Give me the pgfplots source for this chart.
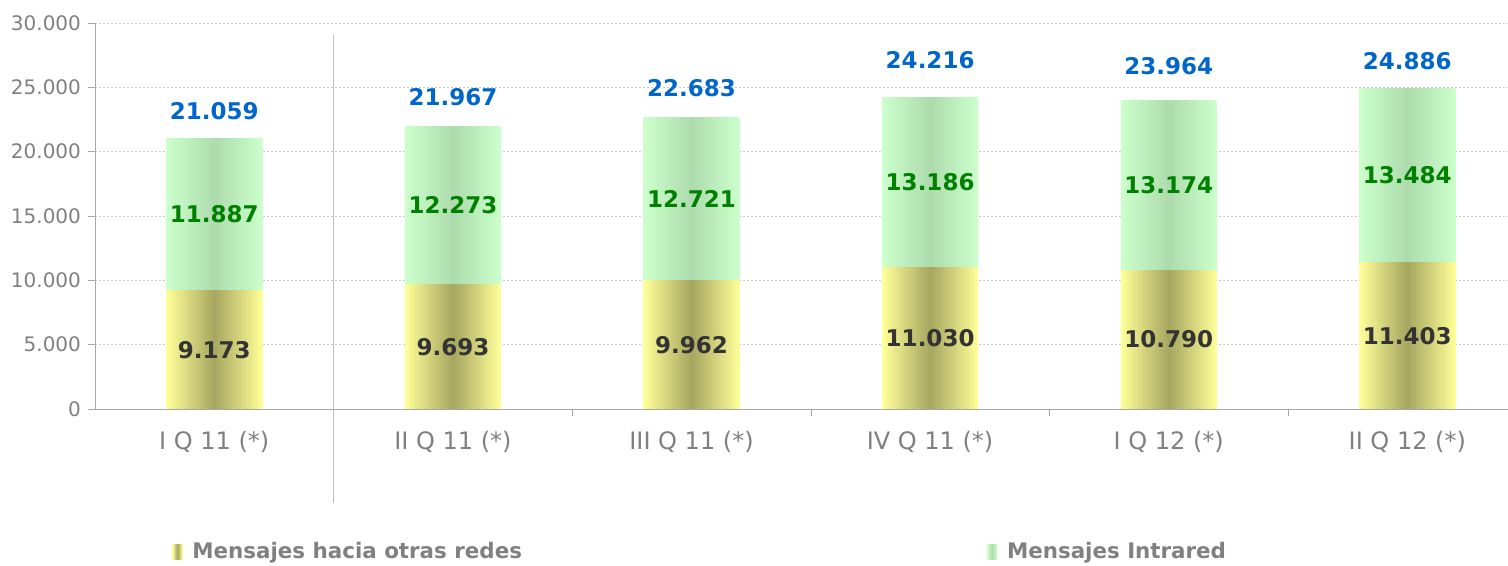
\documentclass[border=0pt]{standalone}
\usepackage{fontspec}
\setmainfont{DejaVu Sans}
\usepackage{pgfplots}
\usepackage{pgfplotstable}
\pgfplotsset{compat=1.18}
\definecolor{yedge}{HTML}{FFFF99}
\definecolor{ymid}{HTML}{A6A660}
\definecolor{gedge}{HTML}{CCFFCC}
\definecolor{gmid}{HTML}{ADDBAD}
\definecolor{lblue}{HTML}{0066CC}
\definecolor{lgreen}{HTML}{008000}
\definecolor{ldark}{HTML}{333333}
\definecolor{txtgray}{HTML}{808080}
\definecolor{axgray}{HTML}{A6A6A6}
\definecolor{gridgray}{HTML}{BFBFBF}

\pgfplotstableread{
x yel grn tot ly
0 9173 11887 21059 23161
1 9693 12273 21967 24249
2 9962 12721 22683 24948
3 11030 13186 24216 27124
4 10790 13174 23964 26658
5 11403 13484 24886 27047
}\data

\begin{document}
\begin{tikzpicture}
\pgfkeys{/pgf/number format/.cd,1000 sep={.},assume math mode=true}
\begin{axis}[
  scale only axis, width=706.5pt, height=193pt,
  xmin=-0.5, xmax=5.422, ymin=0, ymax=30000,
  clip=false,
  axis x line*=bottom, axis y line*=left,
  axis line style={axgray},
  tick align=outside, major tick length=3.5pt, minor tick length=3.5pt,
  tick style={axgray},
  major x tick style={draw=none},
  minor x tick style={draw=axgray},
  ytick={0,5000,...,30000},
  scaled y ticks=false,
  ymajorgrids, xmajorgrids=false, xminorgrids=false,
  major grid style={gridgray!80, line width=0.4pt, dash pattern=on 0.8pt off 1.2pt},
  yticklabel style={text=txtgray, font=\fontsize{10}{12}\selectfont},
  xtick={0,...,5},
  minor xtick={0.5,1.5,2.5,3.5,4.5},
  xticklabels={I Q 11 (*), II Q 11 (*), III Q 11 (*), IV Q 11 (*), I Q 12 (*), II Q 12 (*)},
  xticklabel style={text=txtgray, font=\fontsize{12}{14}\selectfont, yshift=-4pt},
  legend columns=2,
  legend style={at={(axis description cs:0.0545,-0.3705)}, anchor=west, draw=none, fill=none,
    inner sep=0pt, nodes={inner sep=0pt},
    font=\fontsize{10.7}{13}\selectfont\bfseries, text=txtgray,
    /tikz/every odd column/.append style={column sep=5pt},
    /tikz/every even column/.append style={column sep=232.5pt}},
  legend image code/.code={\path[#1, draw=none] (0pt,-3.75pt) rectangle (5pt,3.75pt);},
]
\pgfplotsinvokeforeach{0,...,5}{
\addplot[forget plot, ybar, bar width=0.402, bar shift=0pt, draw=none,
  left color=gedge, right color=gedge, middle color=gmid,
  restrict x to domain=#1:#1]
  table[x=x, y=tot] {\data};
\addplot[forget plot, ybar, bar width=0.402, bar shift=0pt, draw=none,
  left color=yedge, right color=yedge, middle color=ymid,
  restrict x to domain=#1:#1]
  table[x=x, y=yel] {\data};
}
\addlegendimage{left color=yedge, right color=yedge, middle color=ymid}
\addlegendentry{Mensajes hacia otras redes}
\addlegendimage{left color=gedge, right color=gedge, middle color=gmid}
\addlegendentry{Mensajes Intrared}

\addplot[forget plot, draw=none, mark=none,
  nodes near coords={\pgfmathprintnumber[fixed,precision=0]{\pgfplotspointmeta}},
  point meta=\thisrow{yel},
  every node near coord/.append style={anchor=center, text=ldark, font=\fontsize{11.5}{13}\selectfont\bfseries}]
  table[x=x, y expr=\thisrow{yel}/2] {\data};
\addplot[forget plot, draw=none, mark=none,
  nodes near coords={\pgfmathprintnumber[fixed,precision=0]{\pgfplotspointmeta}},
  point meta=\thisrow{grn},
  every node near coord/.append style={anchor=center, text=lgreen, font=\fontsize{11.5}{13}\selectfont\bfseries}]
  table[x=x, y expr=\thisrow{yel}+\thisrow{grn}/2] {\data};
\addplot[forget plot, draw=none, mark=none,
  nodes near coords={\pgfmathprintnumber[fixed,precision=0]{\pgfplotspointmeta}},
  point meta=\thisrow{tot},
  every node near coord/.append style={anchor=center, text=lblue, font=\fontsize{11.5}{13}\selectfont\bfseries}]
  table[x=x, y=ly] {\data};

\draw[gridgray] (axis cs:0.5,29070) -- ([yshift=-47pt]axis cs:0.5,0);
\end{axis}
\pgfresetboundingbox
\path (-47.5pt,-78.5pt) rectangle (706.5pt,204.5pt);
\end{tikzpicture}
\end{document}
